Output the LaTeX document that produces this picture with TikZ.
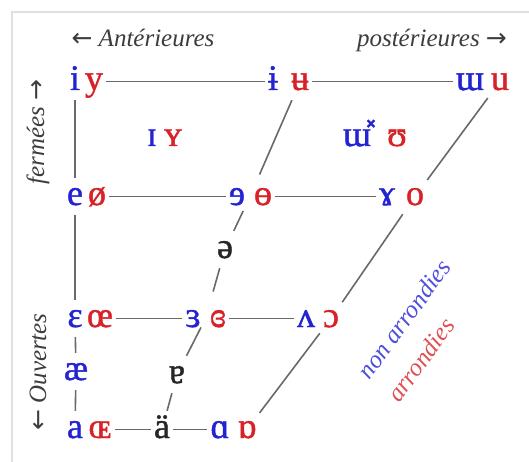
\documentclass[tikz,border=0pt]{standalone}
\usepackage{fontspec}
\setmainfont{Liberation Serif}
\newfontfamily\ipafont[FakeBold=1.2]{Liberation Serif}
\newfontfamily\arrowfont{DejaVu Sans}
\usetikzlibrary{calc}
\definecolor{vblue}{RGB}{35,35,210}
\definecolor{vred}{RGB}{215,35,40}
\definecolor{lblgray}{RGB}{60,60,60}
\definecolor{linegray}{RGB}{105,105,105}

\begin{document}
\begin{tikzpicture}[x=1pt,y=-1pt,
  ipa/.style={font=\fontsize{36}{36}\ipafont,text height=25pt,text depth=8pt,
    inner xsep=3pt,inner ysep=2pt,anchor=base},
  unr/.style={ipa,text=vblue},
  rnd/.style={ipa,text=vred},
  neu/.style={ipa,text=black!85},
  sidelbl/.style={font=\fontsize{25}{25}\selectfont\itshape,text=lblgray,inner sep=0pt},
  link/.style={draw=linegray,line width=1.6pt}]
  \useasboundingbox (0,0) rectangle (529,462);
  \draw[black!12,line width=1.5pt] (12,462) -- (12,12) -- (529,12);

  % axis labels
  \node[sidelbl,anchor=base] (ant) at (143,47) {{\arrowfont ←} Antérieures};
  \node[sidelbl,anchor=base] (post) at (432,47) {postérieures {\arrowfont →}};
  \node[sidelbl,rotate=90] (ferm) at (38,132) {fermées {\arrowfont →}};
  \node[sidelbl,rotate=90] (ouv) at (38,372) {{\arrowfont ←} Ouvertes};
  \node[sidelbl,text=vblue!80,rotate=54] (nonarr) at (404,319) {non arrondies};
  \node[sidelbl,text=vred!80,rotate=54] (arr) at (421,360) {arrondies};

  % fermees
  \node[unr] (i) at (75,90) {i};
  \node[rnd] (y) at (94,90) {y};
  \node[unr] (ibar) at (273,90) {ɨ};
  \node[rnd] (ubar) at (300,90) {ʉ};
  \node[unr] (wu) at (470,90) {ɯ};
  \node[rnd] (u) at (500,90) {u};
  \node[unr] (smI) at (152,146) {ɪ};
  \node[rnd] (smY) at (173,146) {ʏ};
  \node[unr] (wuc) at (357,146) {ɯ̽};
  \node[rnd] (hsu) at (397,146) {ʊ};
  % mi-fermees
  \node[unr] (e) at (75,205) {e};
  \node[rnd] (oslash) at (97,205) {ø};
  \node[unr] (rese) at (237,205) {ɘ};
  \node[rnd] (obar) at (263,205) {ɵ};
  \node[unr] (ram) at (387,205) {ɤ};
  \node[rnd] (o) at (415,205) {o};
  \node[neu] (schwa) at (225,258) {ə};
  % mi-ouvertes
  \node[unr] (eps) at (75,327) {ɛ};
  \node[rnd] (oe) at (100,327) {œ};
  \node[unr] (reps) at (193,327) {ɜ};
  \node[rnd] (ceps) at (218,327) {ɞ};
  \node[unr] (wedge) at (306,327) {ʌ};
  \node[rnd] (oopen) at (331,327) {ɔ};
  \node[unr] (ash) at (76,380) {æ};
  \node[neu] (turna) at (177,383) {ɐ};
  % ouvertes
  \node[unr] (a) at (75,438) {a};
  \node[rnd] (OE) at (100,438) {ɶ};
  \node[neu] (auml) at (162,438) {ä};
  \node[unr] (alpha) at (220,438) {ɑ};
  \node[rnd] (talpha) at (247,438) {ɒ};

  \coordinate (cmid) at ($(rese.center)!0.5!(obar.center)$);
  \coordinate (cmidop) at ($(reps.center)!0.5!(ceps.center)$);

  \foreach \p/\q in {y/ibar,ubar/wu,oslash/rese,obar/ram,oe/reps,ceps/wedge,OE/auml,auml/alpha}
    \draw[link] (\p) -- (\q);
  \foreach \p/\q in {i/e,e/eps,eps/ash,ash/a}
    \draw[link] (\p) -- (\q);
  \foreach \p/\q in {u/o,o/oopen,oopen/talpha}
    \draw[link] (\p) -- (\q);
  \draw[link,shorten >=24pt] (ubar) -- (cmid);
  \draw[link,shorten <=16pt] (cmid) -- (schwa);
  \draw[link,shorten >=28pt] (schwa) -- (cmidop);
  \draw[link,shorten <=10pt] (cmidop) -- (turna);
  \draw[link] (turna) -- (auml);
\end{tikzpicture}
\end{document}
